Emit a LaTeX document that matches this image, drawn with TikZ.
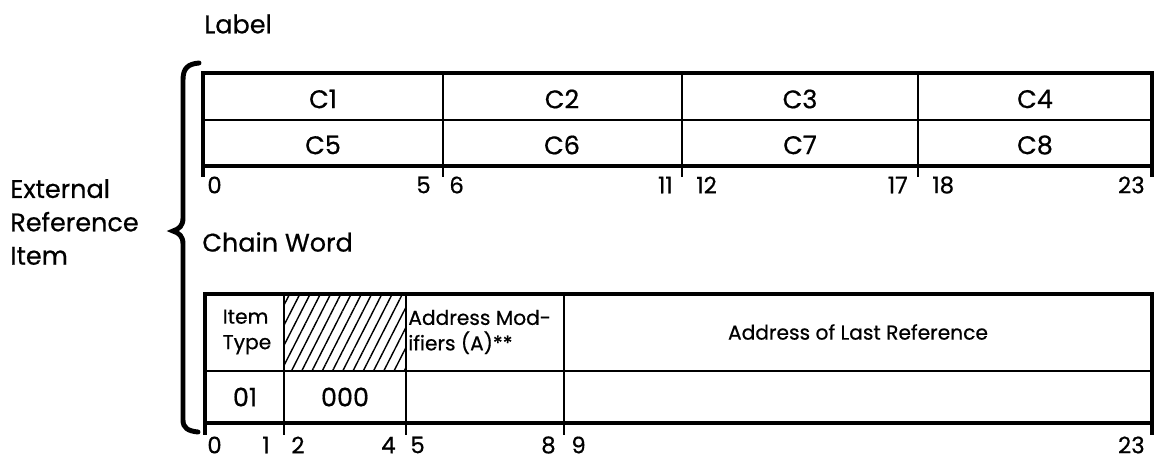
\documentclass[tikz,border=0pt]{standalone}
\usepackage{fontspec}
\setmainfont{Poppins}[FakeBold=0.6]
\usetikzlibrary{patterns.meta}

\begin{document}
\begin{tikzpicture}[
    x=0.02cm, y=-0.02cm,
    extRefBraceStyle/.style={line width=2.8pt, line cap=round},
    extRefOuterStyle/.style={line width=2.2pt},
    extRefInnerStyle/.style={line width=1.6pt},
    extRefHatchStyle/.style={pattern={Lines[angle=63,distance=5.2pt,line width=0.8pt]}},
    extRefTitleStyle/.style={font=\fontsize{14.5}{19}\selectfont, inner sep=0pt},
    extRefCellStyle/.style={font=\fontsize{14.5}{16}\selectfont},
    extRefSmallStyle/.style={font=\fontsize{11.5}{14.5}\selectfont, align=left, inner sep=0pt},
    extRefNumStyle/.style={font=\fontsize{13}{15}\selectfont, inner sep=0pt}
]
    \useasboundingbox (0,0) rectangle (1173,460);

    % --- 标题 ---
    \node[extRefTitleStyle, anchor=west] (labelTitle) at (204,24) {Label};
    \node[extRefTitleStyle, anchor=west] (chainTitle) at (202,242) {Chain Word};
    \node[extRefTitleStyle, anchor=west, align=left] (itemTitle) at (10,222)
        {External\\Reference\\Item};

    % 大括号
    \draw[extRefBraceStyle] (199,63) .. controls (188,64) and (183,68) .. (183,80)
        -- (183,218) .. controls (183,226) and (179,229) .. (173,231)
        .. controls (179,233) and (183,236) .. (183,244)
        -- (183,420) .. controls (183,428) and (188,431) .. (198,432);

    % --- Label 字 ---
    \draw[extRefOuterStyle] (203,73) rectangle (1152,166);
    \draw[extRefInnerStyle] (203,120) -- (1152,120);
    \draw[extRefInnerStyle] (443,73) -- (443,177);
    \draw[extRefInnerStyle] (682,73) -- (682,177);
    \draw[extRefInnerStyle] (918,73) -- (918,177);
    \draw[extRefOuterStyle] (203,166) -- (203,177);
    \draw[extRefOuterStyle] (1152,166) -- (1152,177);

    \node[extRefCellStyle] (cOne) at (323,99) {C1};
    \node[extRefCellStyle] (cTwo) at (562,99) {C2};
    \node[extRefCellStyle] (cThree) at (800,99) {C3};
    \node[extRefCellStyle] (cFour) at (1035,99) {C4};
    \node[extRefCellStyle] (cFive) at (323,145) {C5};
    \node[extRefCellStyle] (cSix) at (562,145) {C6};
    \node[extRefCellStyle] (cSeven) at (800,145) {C7};
    \node[extRefCellStyle] (cEight) at (1035,145) {C8};

    % 位号
    \node[extRefNumStyle, anchor=west] (labelBitA) at (207,185) {0};
    \node[extRefNumStyle, anchor=east] (labelBitB) at (431,185) {5};
    \node[extRefNumStyle, anchor=west] (labelBitC) at (449,185) {6};
    \node[extRefNumStyle, anchor=east] (labelBitD) at (673,185) {11};
    \node[extRefNumStyle, anchor=west] (labelBitE) at (696,185) {12};
    \node[extRefNumStyle, anchor=east] (labelBitF) at (908,185) {17};
    \node[extRefNumStyle, anchor=west] (labelBitG) at (932,185) {18};
    \node[extRefNumStyle, anchor=east] (labelBitH) at (1145,185) {23};

    % --- Chain Word ---
    \fill[extRefHatchStyle] (284,294) rectangle (406,371);
    \draw[extRefOuterStyle] (205,294) rectangle (1152,423);
    \draw[extRefInnerStyle] (205,371) -- (1152,371);
    \draw[extRefInnerStyle] (284,294) -- (284,435);
    \draw[extRefInnerStyle] (406,294) -- (406,435);
    \draw[extRefInnerStyle] (564,294) -- (564,435);
    \draw[extRefOuterStyle] (205,423) -- (205,435);
    \draw[extRefOuterStyle] (1152,423) -- (1152,435);

    \node[extRefSmallStyle] (itemType) at (247,332) {Item\\Type};
    \node[extRefSmallStyle, anchor=west] (addrMod) at (408,332) {Address Mod-\\ifiers (A)**};
    \node[extRefSmallStyle] (addrLast) at (858,332) {Address of Last Reference};
    \node[extRefCellStyle] (typeCode) at (245,397) {01};
    \node[extRefCellStyle] (zeroCode) at (345,397) {000};

    % 位号
    \node[extRefNumStyle, anchor=west] (chainBitA) at (207,445) {0};
    \node[extRefNumStyle, anchor=east] (chainBitB) at (270,445) {1};
    \node[extRefNumStyle, anchor=west] (chainBitC) at (291,445) {2};
    \node[extRefNumStyle, anchor=east] (chainBitD) at (396,445) {4};
    \node[extRefNumStyle, anchor=west] (chainBitE) at (410,445) {5};
    \node[extRefNumStyle, anchor=east] (chainBitF) at (556,445) {8};
    \node[extRefNumStyle, anchor=west] (chainBitG) at (571,445) {9};
    \node[extRefNumStyle, anchor=east] (chainBitH) at (1145,445) {23};
\end{tikzpicture}
\end{document}
